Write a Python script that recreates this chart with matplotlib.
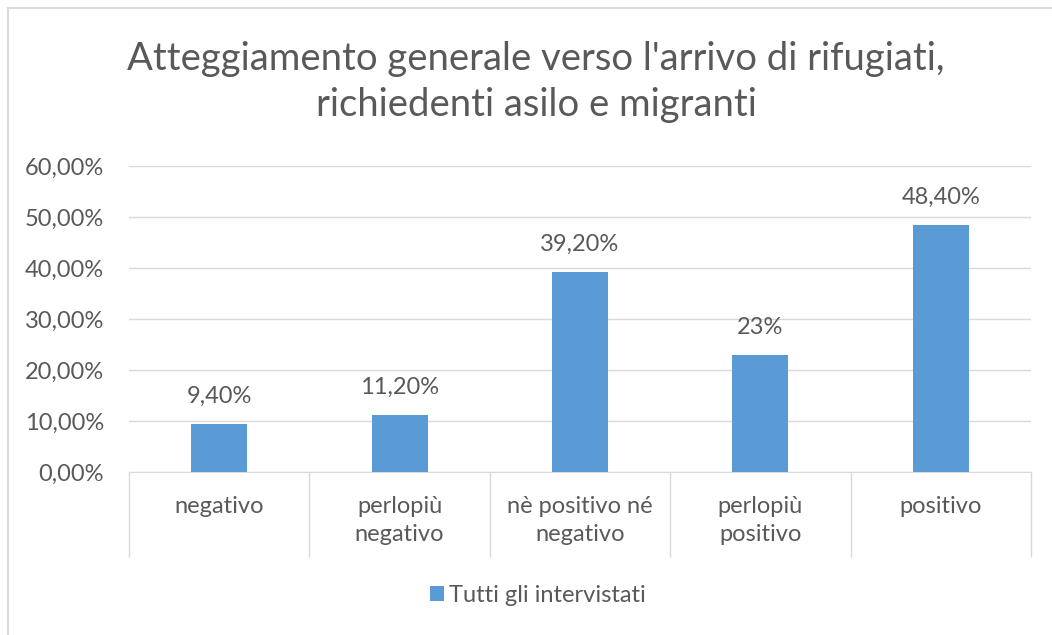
import numpy as np
import matplotlib.pyplot as plt
from matplotlib.patches import Rectangle

categorie = ["negativo", "perlopiù\nnegativo", "nè positivo né\nnegativo", "perlopiù\npositivo", "positivo"]
valori = [9.4, 11.2, 39.2, 23, 48.4]
etichette = ["9,40%", "11,20%", "39,20%", "23%", "48,40%"]
yticks = [0, 10, 20, 30, 40, 50, 60]
ytick_labels = ["0,00%", "10,00%", "20,00%", "30,00%", "40,00%", "50,00%", "60,00%"]
serie = "Tutti gli intervistati"
titolo = "Atteggiamento generale verso l'arrivo di rifugiati,\nrichiedenti asilo e migranti"

plt.rcParams['font.family'] = ['Lato', 'DejaVu Sans']
grigio = '#595959'
linee = '#D9D9D9'
blu = '#5B9BD5'

W, H = 1052, 635
fig = plt.figure(figsize=(W / 100, H / 100), dpi=100)
ax = fig.add_axes([129 / W, 1 - 472 / H, (1031 - 129) / W, (472 - 166) / H])

x = np.arange(len(categorie))
bars = ax.bar(x, valori, width=0.31, color=blu, zorder=3, label=serie)
for xi, v, t in zip(x, valori, etichette):
    ax.text(xi, v + 5.4, t, ha='center', va='center', fontsize=17, color=grigio)

ax.set_xlim(-0.5, len(categorie) - 0.5)
ax.set_ylim(0, 60)
ax.set_yticks(yticks)
ax.set_yticklabels(ytick_labels, fontsize=17, color=grigio)
ax.yaxis.grid(True, color=linee, linewidth=1, zorder=0)
ax.tick_params(axis='y', length=0, pad=18)

ax.set_xticks(x)
ax.set_xticklabels(categorie, fontsize=17, color=grigio, linespacing=1.45)
ax.tick_params(axis='x', which='major', length=0, pad=17)
ax.set_xticks(np.arange(len(categorie) + 1) - 0.5, minor=True)
ax.tick_params(axis='x', which='minor', length=61, width=1, color=linee, direction='out')

for s in ['top', 'right', 'left']:
    ax.spines[s].set_visible(False)
ax.spines['bottom'].set_color(linee)

fig.text(536 / W, 1 - 82 / H, titolo, ha='center', va='center', fontsize=27.5,
         color=grigio, linespacing=1.36)

leg = fig.legend(handles=[bars], labels=[serie], loc='center', bbox_to_anchor=(538 / W, 1 - 595 / H),
                 frameon=False, fontsize=17, handlelength=0.6, handleheight=0.6, handletextpad=0.2)
for t in leg.get_texts():
    t.set_color(grigio)

fig.patches.append(Rectangle((8 / W, -0.1), 1.2, 1.1 - 8 / H, transform=fig.transFigure,
                             fill=False, edgecolor=linee, linewidth=1.5))

fig.savefig('out.png', dpi=100)
